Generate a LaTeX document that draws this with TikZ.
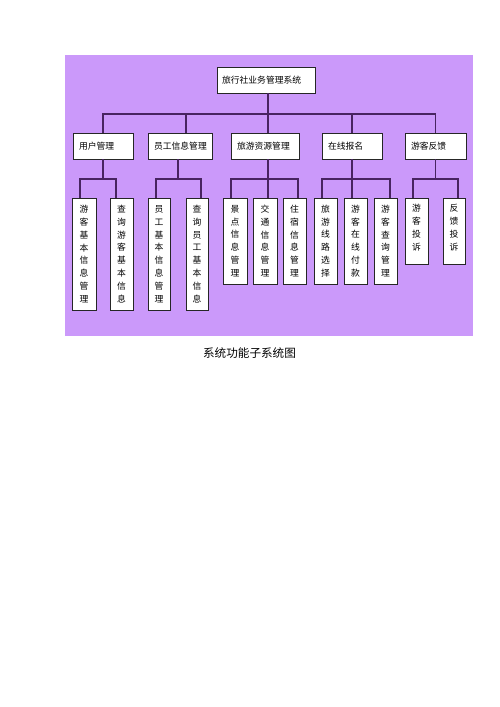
\documentclass[tikz,border=0pt]{standalone}
\usepackage{fontspec}
\newfontfamily\cjk{Noto Sans CJK SC}
\usetikzlibrary{shadows}
\definecolor{bgpurple}{RGB}{203,153,250}
\definecolor{linepurple}{RGB}{72,36,96}
\tikzset{
  boxbase/.style={draw=black!85, line width=0.8pt, fill=white, inner sep=0pt,
    drop shadow={shadow xshift=1pt, shadow yshift=-1pt, fill=black!55, opacity=1}},
  headbox/.style={boxbase, minimum height=26pt, font=\cjk\fontsize{8.8}{10}\selectfont},
  leafbox/.style={boxbase, align=center, font=\cjk\fontsize{8.8}{12.86}\selectfont},
  conn/.style={draw=linepurple, line width=1.1pt}
}
\begin{document}
\begin{tikzpicture}[x=1pt,y=-1pt]
\useasboundingbox (0,0) rectangle (500,707);
\fill[white] (0,0) rectangle (500,707);
\fill[bgpurple] (65,55) rectangle (473,336);

% root
\node[headbox, minimum width=98pt, text width=86pt, align=left] (root) at (266,80) {\hspace*{-1pt}旅行社业务管理系统};

% level 2
\node[headbox, minimum width=60pt, text width=48pt, align=left] (u) at (103,146) {用户管理};
\node[headbox, minimum width=64pt, text width=52pt, align=left] (y) at (180,146) {员工信息管理};
\node[headbox, minimum width=68pt, text width=56pt, align=left] (z) at (265,146) {旅游资源管理};
\node[headbox, minimum width=60pt, text width=48pt, align=left] (o) at (352,146) {在线报名};
\node[headbox, minimum width=61pt, text width=49pt, align=left] (f) at (435.5,146) {游客反馈};

% leaves
\node[leafbox, minimum width=24pt, minimum height=112pt] (l1) at (84,254) {游\\客\\基\\本\\信\\息\\管\\理};
\node[leafbox, minimum width=23pt, minimum height=112pt] (l2) at (121.5,254) {查\\询\\游\\客\\基\\本\\信\\息};
\node[leafbox, minimum width=22pt, minimum height=112pt] (l3) at (159,254) {员\\工\\基\\本\\信\\息\\管\\理};
\node[leafbox, minimum width=22pt, minimum height=112pt] (l4) at (197,254) {查\\询\\员\\工\\基\\本\\信\\息};
\node[leafbox, minimum width=24pt, minimum height=86pt] (l5) at (235,241) {景\\点\\信\\息\\管\\理};
\node[leafbox, minimum width=24pt, minimum height=86pt] (l6) at (265,241) {交\\通\\信\\息\\管\\理};
\node[leafbox, minimum width=23pt, minimum height=86pt] (l7) at (294.5,241) {住\\宿\\信\\息\\管\\理};
\node[leafbox, minimum width=23pt, minimum height=86pt] (l8) at (325.5,241) {旅\\游\\线\\路\\选\\择};
\node[leafbox, minimum width=23pt, minimum height=86pt] (l9) at (355.5,241) {游\\客\\在\\线\\付\\款};
\node[leafbox, minimum width=23pt, minimum height=86pt] (l10) at (385.5,241) {游\\客\\查\\询\\管\\理};
\node[leafbox, minimum width=23pt, minimum height=66pt, text depth=7pt] (l11) at (416.5,231) {游\\客\\投\\诉};
\node[leafbox, minimum width=22pt, minimum height=66pt, text depth=7pt] (l12) at (454,231) {反\\馈\\投\\诉};

% top bus
\coordinate (tb) at (268,114);
\draw[conn] (root.south -| tb) -- (tb);
\draw[conn] (u.north) -- (u.north |- tb) -- (f.north |- tb) -- (f.north);
\draw[conn] (186,0 |- tb) -- (186,0 |- y.north);
\draw[conn] (268,0 |- tb) -- (268,0 |- z.north);
\draw[conn] (o.north |- tb) -- (o.north);

% sub buses
\coordinate (sb) at (0,179);
\draw[conn] (u.south) -- (u.south |- sb);
\draw[conn] (80,0 |- l1.north) -- (80,0 |- sb) -- (116,0 |- sb) -- (116,0 |- l2.north);

\draw[conn] (178,0 |- y.south) -- (178,0 |- sb);
\draw[conn] (156,0 |- l3.north) -- (156,0 |- sb) -- (201,0 |- sb) -- (201,0 |- l4.north);

\draw[conn] (268,0 |- z.south) -- (268,0 |- l6.north);
\draw[conn] (231,0 |- l5.north) -- (231,0 |- sb) -- (298,0 |- sb) -- (298,0 |- l7.north);

\draw[conn] (o.south) -- (o.south |- l9.north);
\draw[conn] (322,0 |- l8.north) -- (322,0 |- sb) -- (390,0 |- sb) -- (390,0 |- l10.north);

\draw[conn] (f.south) -- (f.south |- sb);
\draw[conn] (413,0 |- l11.north) -- (413,0 |- sb) -- (458,0 |- sb) -- (458,0 |- l12.north);

% caption
\node[font=\cjk\fontsize{11.6}{12}\selectfont, inner sep=0pt] (cap) at (249.5,353) {系统功能子系统图};
\end{tikzpicture}
\end{document}
